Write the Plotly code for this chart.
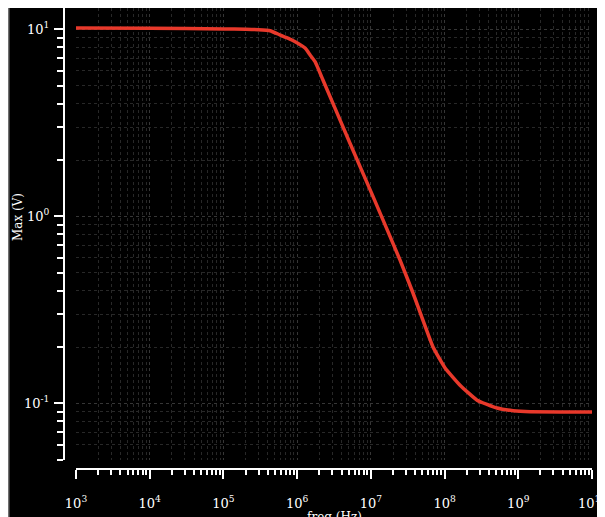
import plotly.graph_objects as go

# Data (frequency in Hz, Max in V)
freq = [1e3, 1e4, 1e5, 2e5, 3e5, 4.3e5, 5.9e5, 7.6e5, 9.4e5, 1.28e6, 1.5e6,
        1.75e6, 2.24e6, 5.21e6, 1.04e7, 2.49e7, 3.73e7, 6.97e7, 1.01e8,
        1.62e8, 2.76e8, 5.15e8, 8.49e8, 1.45e9, 1e10]
vmax = [10.15, 10.12, 10.05, 10.0, 9.95, 9.83, 9.32, 8.95, 8.59, 7.94, 7.29,
        6.71, 5.36, 2.46, 1.31, 0.583, 0.389, 0.200, 0.155,
        0.125, 0.104, 0.0944, 0.0913, 0.0901, 0.0900]

x_exps = [3, 4, 5, 6, 7, 8, 9, 10]
y_exps = [-1, 0, 1]

x_tickvals = [10 ** e for e in x_exps]
x_ticktext = [f"10<sup>{e}</sup>" for e in x_exps]
y_tickvals = [10 ** e for e in y_exps]
y_ticktext = [f"10<sup>{e}</sup>" for e in y_exps]

x_minor = [m * 10 ** e for e in x_exps[:-1] for m in range(2, 10)]
y_minor = [m * 10 ** e for e in [-2, -1, 0, 1] for m in range(2, 10)]

# the page has an 8px body margin, so the figure is drawn 8px in from top/left
OFF = 8
W, H = 605 - OFF, 517 - OFF
ml, mr, mt, mb = 64 - OFF, 13, 0, 48
pw, ph = W - ml - mr, H - mt - mb

def px_x(p):
    return (p - OFF - ml) / pw

def px_y(p):
    return (H - mb - (p - OFF)) / ph

tickfont = dict(family="DejaVu Serif", size=13, color="white")

fig = go.Figure()
fig.add_trace(go.Scatter(
    x=freq, y=vmax, mode="lines",
    line=dict(color="#e8392b", width=3.5, shape="spline", smoothing=0.4),
    hoverinfo="skip", showlegend=False,
))

fig.update_layout(
    width=W, height=H,
    margin=dict(l=ml, r=mr, t=mt, b=mb, pad=0),
    paper_bgcolor="black",
    plot_bgcolor="black",
    xaxis=dict(
        type="log", range=[3, 10],
        domain=[px_x(76), 1],
        anchor="free", position=0,
        showline=True, linecolor="white", linewidth=2,
        ticks="outside", ticklen=9, tickwidth=1.5, tickcolor="white",
        tickmode="array", tickvals=x_tickvals, ticktext=x_ticktext,
        tickfont=tickfont, ticklabelstandoff=13, ticklabeloverflow="allow",
        showgrid=True, gridcolor="#363636", griddash="dot", gridwidth=1,
        minor=dict(tickmode="array", tickvals=x_minor, ticks="outside",
                   ticklen=5, tickwidth=1.5, tickcolor="white",
                   showgrid=True, gridcolor="#282828", griddash="dot", gridwidth=1),
        zeroline=False, automargin=False,
    ),
    yaxis=dict(
        type="log", range=[-1.303, 1.114],
        domain=[px_y(460), 1],
        anchor="free", position=0,
        showline=True, linecolor="white", linewidth=2,
        ticks="outside", ticklen=9, tickwidth=1.5, tickcolor="white",
        tickmode="array", tickvals=y_tickvals, ticktext=y_ticktext,
        tickfont=tickfont, ticklabelstandoff=2, ticklabeloverflow="allow",
        showgrid=True, gridcolor="#363636", griddash="dot", gridwidth=1,
        minor=dict(tickmode="array", tickvals=y_minor, ticks="outside",
                   ticklen=6, tickwidth=1.5, tickcolor="white",
                   showgrid=True, gridcolor="#282828", griddash="dot", gridwidth=1),
        zeroline=False, automargin=False,
    ),
    shapes=[
        dict(type="rect", xref="paper", yref="paper", layer="above",
             x0=px_x(8), x1=px_x(9.5), y0=px_y(520), y1=px_y(7),
             fillcolor="#707070", line=dict(width=0)),
    ],
    annotations=[
        dict(text="Max (V)", xref="paper", yref="paper",
             x=px_x(18), y=px_y(217), textangle=-90, showarrow=False,
             xanchor="center", yanchor="middle",
             font=dict(family="DejaVu Serif", size=12, color="white")),
        dict(text="freq (Hz)", xref="paper", yref="paper",
             x=px_x(334), y=px_y(508), showarrow=False,
             xanchor="center", yanchor="top",
             font=dict(family="DejaVu Serif", size=12, color="white")),
    ],
)

fig.write_html("out.html")
